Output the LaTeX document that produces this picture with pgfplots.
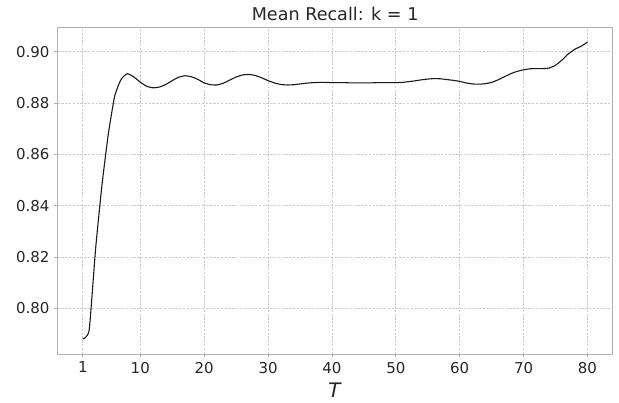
\documentclass[border=0pt]{standalone}
\usepackage{pgfplots}
\pgfplotsset{compat=1.18}
\usepackage{fontspec}
\setmainfont{DejaVu Sans}
\definecolor{gridc}{HTML}{CDCDCD}
\definecolor{boxc}{HTML}{B0B0B0}
\definecolor{txtc}{HTML}{262626}
\begin{document}
\begin{tikzpicture}[x=1pt,y=1pt]
\begin{axis}[
  scale only axis,
  width=555.7pt, height=327pt,
  xmin=-2.95, xmax=83.95,
  ymin=0.7822, ymax=0.9096,
  xtick={1,10,20,30,40,50,60,70,80},
  ytick={0.80,0.82,0.84,0.86,0.88,0.90},
  /pgf/number format/assume math mode=true,
  yticklabel style={/pgf/number format/fixed,/pgf/number format/fixed zerofill,/pgf/number format/precision=2},
  scaled y ticks=false,
  ticklabel style={font=\fontsize{15}{18}\selectfont, text=txtc},
  tick align=outside,
  tick pos=left,
  major tick length=3.5pt,
  every tick/.style={boxc, line width=0.8pt},
  axis line style={boxc, line width=0.9pt},
  grid=major,
  major grid style={gridc, dash pattern=on 2.4pt off 1.4pt, line width=0.8pt},
  title={Mean Recall: k = 1},
  title style={font=\fontsize{17.6}{20}\selectfont, text=txtc, yshift=-3pt},
  xlabel={\textit{T}},
  xlabel style={font=\fontsize{20}{22}\selectfont, text=txtc, yshift=-3pt},
  yticklabel style={xshift=-1pt},
  xticklabel style={yshift=-1pt},
]
\addplot[black!90, line width=1.1pt, mark=none, smooth, tension=0.3] coordinates {
(1,0.7880) (2,0.7915) (3,0.8230) (4,0.8480) (5,0.8680) (6,0.8828) (7,0.8893) (8,0.8915) (9,0.8902) (10,0.8882)
(11,0.8866) (12,0.8860) (13,0.8863) (14,0.8873) (15,0.8888) (16,0.8901) (17,0.8907) (18,0.8903) (19,0.8893) (20,0.8879)
(21,0.8872) (22,0.8871) (23,0.8878) (24,0.8890) (25,0.8902) (26,0.8910) (27,0.8912) (28,0.8908) (29,0.8899) (30,0.8888)
(31,0.8879) (32,0.8873) (33,0.8871) (34,0.8872) (35,0.8875) (36,0.8878) (37,0.8880) (38,0.8881) (39,0.8881) (40,0.8880)
(41,0.8880) (42,0.8880) (43,0.8879) (44,0.8879) (45,0.8879) (46,0.8879) (47,0.8880) (48,0.8880) (49,0.8880) (50,0.8880)
(51,0.8881) (52,0.8884) (53,0.8887) (54,0.8891) (55,0.8894) (56,0.8896) (57,0.8895) (58,0.8892) (59,0.8889) (60,0.8885)
(61,0.8879) (62,0.8875) (63,0.8874) (64,0.8876) (65,0.8881) (66,0.8891) (67,0.8903) (68,0.8915) (69,0.8924) (70,0.8930)
(71,0.8934) (72,0.8935) (73,0.8935) (74,0.8937) (75,0.8948) (76,0.8968) (77,0.8992) (78,0.9010) (79,0.9022) (80,0.9038)
};
\coordinate (sw) at (rel axis cs:0,0);
\coordinate (ne) at (rel axis cs:1,1);
\end{axis}
\pgfresetboundingbox
\path ([xshift=-57.6pt,yshift=-48.5pt]sw) rectangle ([xshift=6.3pt,yshift=27.3pt]ne);
\end{tikzpicture}
\end{document}
